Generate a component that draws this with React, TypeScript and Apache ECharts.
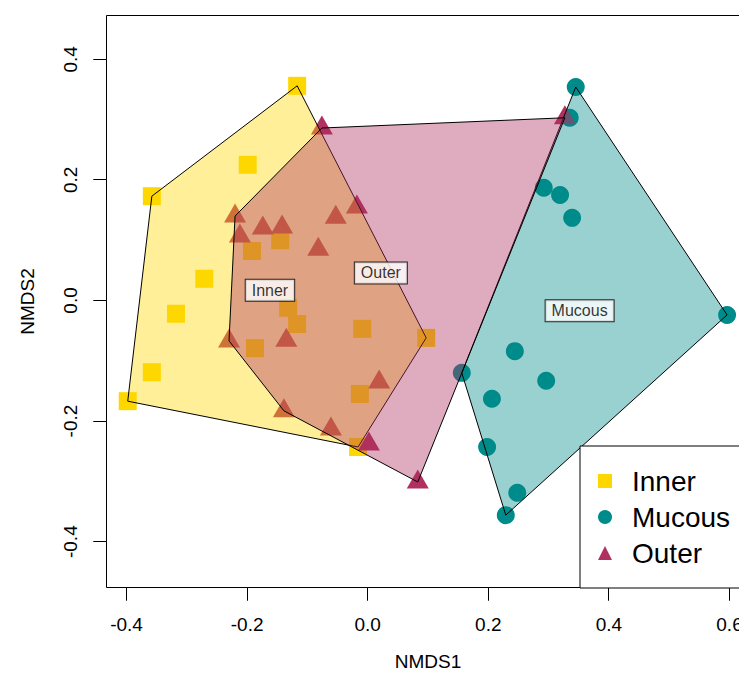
import React, { useEffect, useRef } from "react";
import * as echarts from "echarts";

// NMDS site scores per group
const innerX = [-0.117, -0.199, -0.358, -0.192, -0.145, -0.271, -0.318, -0.358, -0.398, -0.187, -0.132, -0.117, -0.009, 0.097, -0.013, -0.016];
const innerY = [0.356, 0.225, 0.173, 0.082, 0.1, 0.036, -0.022, -0.119, -0.167, -0.079, -0.012, -0.039, -0.047, -0.062, -0.155, -0.243];

const mucousX = [0.345, 0.335, 0.292, 0.319, 0.339, 0.596, 0.244, 0.296, 0.206, 0.156, 0.198, 0.248, 0.229];
const mucousY = [0.354, 0.303, 0.187, 0.175, 0.137, -0.024, -0.084, -0.133, -0.163, -0.12, -0.243, -0.319, -0.356];

const outerX = [-0.076, -0.22, -0.212, -0.174, -0.142, -0.082, -0.053, -0.018, -0.23, -0.135, -0.139, 0.019, -0.061, 0.002, 0.083, 0.327];
const outerY = [0.286, 0.14, 0.107, 0.12, 0.122, 0.085, 0.138, 0.155, -0.067, -0.066, -0.183, -0.135, -0.213, -0.238, -0.301, 0.303];

const groupNames = ["Inner", "Mucous", "Outer"];
const xTicks = [-0.4, -0.2, 0.0, 0.2, 0.4, 0.6];
const yTicks = [-0.4, -0.2, 0.0, 0.2, 0.4];

// plot box limits (data units)
const X_MIN = -0.4332;
const X_MAX = 0.633;
const Y_MIN = -0.476;
const Y_MAX = 0.4726;

const FONT = "'Liberation Sans', Arial, sans-serif";
const TICK_LEN = 13;
const PX_PER_UNIT = 603;
// the grid reaches past the box by one tick length so the outward ticks sit inside it
const PAD = TICK_LEN / PX_PER_UNIT;

type P = [number, number];

const zip = (xs: number[], ys: number[]): P[] => xs.map((x, i) => [x, ys[i]]);

// Andrew's monotone chain convex hull
function convexHull(points: P[]): P[] {
  const s = [...points].sort((a, b) => a[0] - b[0] || a[1] - b[1]);
  const cross = (o: P, a: P, b: P) => (a[0] - o[0]) * (b[1] - o[1]) - (a[1] - o[1]) * (b[0] - o[0]);
  const lower: P[] = [];
  for (const p of s) {
    while (lower.length >= 2 && cross(lower[lower.length - 2], lower[lower.length - 1], p) <= 0) lower.pop();
    lower.push(p);
  }
  const upper: P[] = [];
  for (let i = s.length - 1; i >= 0; i--) {
    const p = s[i];
    while (upper.length >= 2 && cross(upper[upper.length - 2], upper[upper.length - 1], p) <= 0) upper.pop();
    upper.push(p);
  }
  upper.pop();
  lower.pop();
  return lower.concat(upper);
}

// area-weighted centroid of a polygon
function polyCentroid(poly: P[]): P {
  let a = 0, cx = 0, cy = 0;
  for (let i = 0; i < poly.length; i++) {
    const [x0, y0] = poly[i];
    const [x1, y1] = poly[(i + 1) % poly.length];
    const f = x0 * y1 - x1 * y0;
    a += f;
    cx += (x0 + x1) * f;
    cy += (y0 + y1) * f;
  }
  a *= 0.5;
  return [cx / (6 * a), cy / (6 * a)];
}

const crisp = (v: number) => Math.round(v - 0.5) + 0.5;

export default function App() {
  const ref = useRef<HTMLDivElement>(null);

  useEffect(() => {
    if (!ref.current) return;
    const chart = echarts.init(ref.current, null, { renderer: "svg" });

    const groups = [
      { name: "Inner", pts: zip(innerX, innerY), symbol: "rect", size: 18, color: "#FFD700", fill: "rgba(255,215,0,0.4)" },
      { name: "Mucous", pts: zip(mucousX, mucousY), symbol: "circle", size: 18, color: "#008B8B", fill: "rgba(0,139,139,0.4)" },
      { name: "Outer", pts: zip(outerX, outerY), symbol: "triangle", size: [22, 19], color: "#B03060", fill: "rgba(176,48,96,0.4)" },
    ];

    const hulls = groups.map((g) => convexHull(g.pts));
    const centres = hulls.map((h, i) => [...polyCentroid(h), groupNames[i]]);

    const pointSeries = groups.map((g) => ({
      name: g.name,
      type: "scatter",
      data: g.pts,
      symbol: g.symbol,
      symbolSize: g.size,
      symbolOffset: g.symbol === "triangle" ? [0, -3] : [0, 0],
      itemStyle: { color: g.color, opacity: 1 },
      emphasis: { disabled: true },
      silent: true,
      z: 2,
    }));

    const hullSeries = groups.map((g, gi) => ({
      name: g.name + " hull",
      type: "custom",
      coordinateSystem: "cartesian2d",
      data: [hulls[gi][0]],
      silent: true,
      z: 3,
      renderItem: (_params: any, api: any) => ({
        type: "polygon",
        shape: { points: hulls[gi].map((p) => api.coord(p)) },
        style: { fill: g.fill, stroke: "#000", lineWidth: 1 },
      }),
    }));

    const labelSeries = {
      name: "hull labels",
      type: "scatter",
      data: centres,
      symbol: "rect",
      symbolSize: 1,
      itemStyle: { color: "rgba(0,0,0,0)" },
      silent: true,
      z: 5,
      label: {
        show: true,
        position: "inside",
        formatter: (p: any) => p.value[2],
        color: "#000",
        fontFamily: FONT,
        fontSize: 16,
        lineHeight: 17,
        backgroundColor: "#fff",
        borderColor: "#000",
        borderWidth: 1,
        padding: [2, 6],
      },
    };

    // plot box frame traced as one outline, with an outward spur at every tick
    const frameSeries = {
      name: "frame",
      type: "custom",
      coordinateSystem: "cartesian2d",
      data: [[X_MIN, Y_MIN]],
      silent: true,
      z: 4,
      renderItem: (_params: any, api: any) => {
        const bl = api.coord([X_MIN, Y_MIN]);
        const tr = api.coord([X_MAX, Y_MAX]);
        const left = crisp(bl[0]);
        const bottom = crisp(bl[1]);
        const right = crisp(tr[0]);
        const top = crisp(tr[1]);
        const pts: number[][] = [[left, top]];
        // left edge, top to bottom
        [...yTicks].sort((a, b) => b - a).forEach((v) => {
          const y = crisp(api.coord([X_MIN, v])[1]);
          pts.push([left, y], [left - TICK_LEN, y], [left, y]);
        });
        pts.push([left, bottom]);
        // bottom edge, left to right
        [...xTicks].sort((a, b) => a - b).forEach((v) => {
          const x = crisp(api.coord([v, Y_MIN])[0]);
          pts.push([x, bottom], [x, bottom + TICK_LEN], [x, bottom]);
        });
        pts.push([right, bottom], [right, top]);
        return {
          type: "polygon",
          shape: { points: pts },
          style: { fill: "none", stroke: "#000", lineWidth: 1, lineJoin: "miter", miterLimit: 1 },
        };
      },
    };

    chart.setOption({
      animation: false,
      grid: {
        show: false,
        left: 106.5 - TICK_LEN,
        top: 15.5,
        width: 642.9 + TICK_LEN,
        height: 572 + TICK_LEN,
      },
      xAxis: {
        type: "value",
        min: X_MIN - PAD,
        max: X_MAX,
        name: "NMDS1",
        nameLocation: "middle",
        nameGap: 64 - TICK_LEN,
        nameTextStyle: { color: "#000", fontFamily: FONT, fontSize: 19, lineHeight: 19, padding: [0, 0, 0, TICK_LEN] },
        axisLine: { show: false, onZero: false },
        splitLine: { show: false },
        axisTick: { show: false },
        axisLabel: {
          show: true,
          customValues: xTicks,
          margin: 27 - TICK_LEN,
          color: "#000",
          fontFamily: FONT,
          fontSize: 19,
          formatter: (v: number) => v.toFixed(1),
        },
      },
      yAxis: {
        type: "value",
        min: Y_MIN - PAD,
        max: Y_MAX,
        name: "NMDS2",
        nameLocation: "middle",
        nameGap: 70 - TICK_LEN,
        nameTextStyle: { color: "#000", fontFamily: FONT, fontSize: 19, lineHeight: 19, padding: [0, 0, 0, TICK_LEN] },
        axisLine: { show: false, onZero: false },
        splitLine: { show: false },
        axisTick: { show: false },
        axisLabel: {
          show: true,
          customValues: yTicks,
          rotate: 90,
          margin: 27 - TICK_LEN,
          color: "#000",
          fontFamily: FONT,
          fontSize: 19,
          formatter: (v: number) => v.toFixed(1),
        },
      },
      legend: {
        data: groupNames,
        orient: "vertical",
        left: 580,
        top: 446,
        padding: [21, 40, 21, 18],
        itemWidth: 14,
        itemHeight: 14,
        itemGap: 8,
        borderColor: "#000",
        borderWidth: 1,
        backgroundColor: "#fff",
        selectedMode: false,
        z: 10,
        formatter: (name: string) => `{t|${name}}`,
        textStyle: {
          color: "#000",
          fontFamily: FONT,
          fontSize: 28,
          rich: {
            t: { fontFamily: FONT, fontSize: 28, color: "#000", padding: [0, 0, 0, 15] },
          },
        },
      },
      series: [...pointSeries, ...hullSeries, frameSeries, labelSeries],
    });

    return () => chart.dispose();
  }, []);

  return (
    <div style={{ position: "fixed", left: 0, top: 0, width: 739, height: 680, overflow: "hidden", background: "#fff" }}>
      <div ref={ref} style={{ width: 780, height: 680 }} />
    </div>
  );
}
